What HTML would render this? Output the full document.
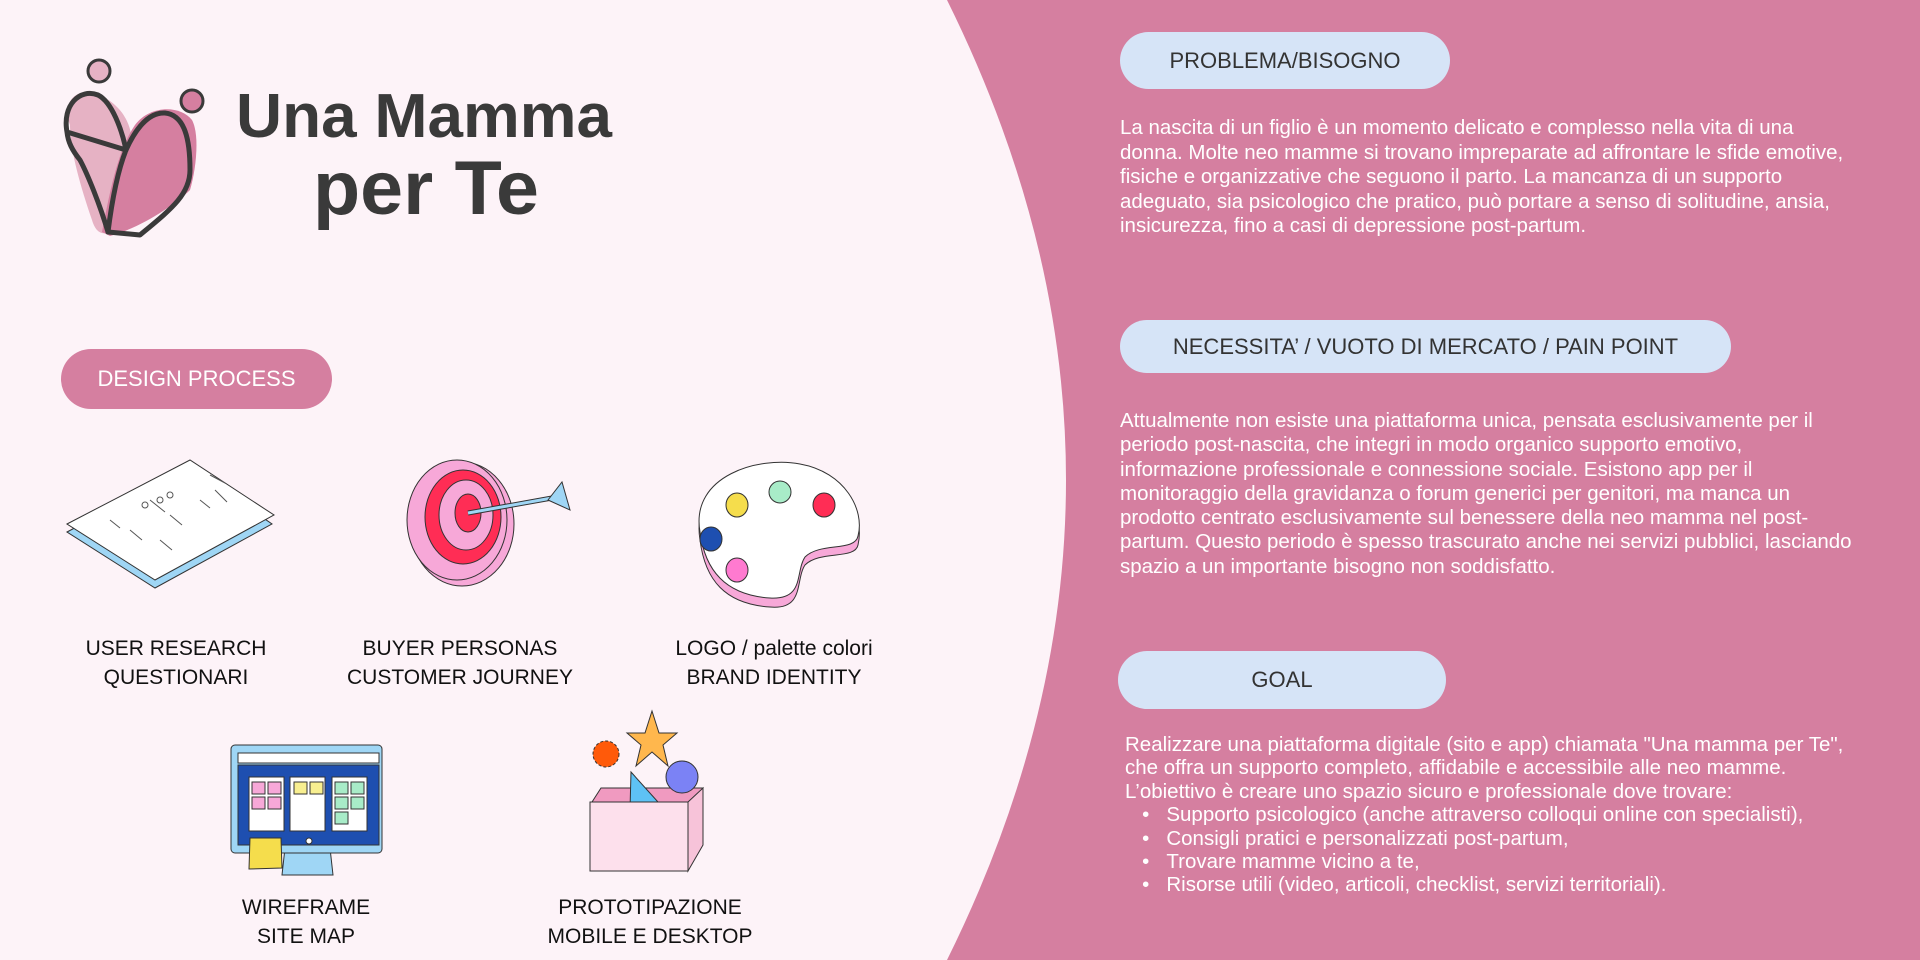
<!DOCTYPE html>
<html><head><meta charset="utf-8"><style>
html,body{margin:0;padding:0;width:1920px;height:960px;overflow:hidden;background:#fdf3f8;font-family:"Liberation Sans",sans-serif;}
svg{position:absolute;left:0;top:0}
.pill{position:absolute;background:#d6e4f7;border-radius:30px;color:#333;font-size:22px;display:flex;align-items:center;justify-content:center;}
.p{position:absolute;color:#fff;font-size:20.5px;white-space:nowrap;}
.lbl{position:absolute;color:#111;font-size:21px;text-align:center;line-height:29px;transform:translateX(-50%);white-space:nowrap}
</style></head><body>
<svg width="1920" height="960" viewBox="0 0 1920 960">
<path d="M947,0 Q1185,480 947,960 L1920,960 L1920,0 Z" fill="#d57fa0"/>
<!-- logo heart -->
<g stroke-linejoin="round" stroke-linecap="round">
<path d="M70,125 C60,100 80,85 100,95 C120,105 130,120 132,140 L110,232 C100,236 95,230 92,220 C80,185 70,150 70,125Z" fill="#e6b2c4" stroke="none"/>
<path d="M102,232 C110,190 118,150 135,125 C150,105 180,105 192,120 C200,135 196,170 190,190 C175,205 140,228 110,236Z" fill="#d57fa0"/>
<path d="M67,132 C62,105 80,88 98,95 C112,102 122,130 126,150 M126,150 C135,130 148,112 165,113 C185,115 190,140 190,170 C190,195 170,210 140,235 L108,232 C100,205 88,175 80,160 C72,150 68,142 67,132Z" fill="none" stroke="#3a3a3a" stroke-width="5"/>
<path d="M108,232 C112,200 118,170 126,150" fill="none" stroke="#3a3a3a" stroke-width="5"/>
<circle cx="99" cy="71" r="11" fill="#e6b2c4" stroke="#3a3a3a" stroke-width="3"/>
<circle cx="192" cy="101" r="11" fill="#d57fa0" stroke="#3a3a3a" stroke-width="3"/>
</g>
<text x="236" y="137" font-family="Liberation Sans" font-weight="bold" font-size="62" fill="#3a3a3a" textLength="376" lengthAdjust="spacingAndGlyphs">Una Mamma</text>
<text x="313" y="214" font-family="Liberation Sans" font-weight="bold" font-size="76" fill="#3a3a3a" textLength="226" lengthAdjust="spacingAndGlyphs">per Te</text>
<!-- book -->
<g stroke="#333" stroke-width="1">
<path d="M67,532 L190,467 L272,524 L155,588 Z" fill="#9fd6f5"/>
<path d="M67,524 L190,460 L274,515 L155,580 Z" fill="#fff"/>
<g fill="none" stroke="#555"><path d="M110,520 l10,8 M130,530 l12,10 M150,500 l15,12 M170,515 l12,10 M200,500 l10,8 M215,490 l12,12 M210,475 l15,8 M160,540 l12,10"/><circle cx="145" cy="505" r="3"/><circle cx="160" cy="500" r="3"/><circle cx="170" cy="495" r="3"/></g>
</g>
<!-- target -->
<g stroke="#333" stroke-width="1">
<ellipse cx="462" cy="524" rx="52" ry="62" fill="#f7a8d8"/>
<ellipse cx="457" cy="520" rx="50" ry="60" fill="#f7a8d8"/>
<ellipse cx="463" cy="517" rx="38" ry="47" fill="#ff2d55"/>
<ellipse cx="466" cy="515" rx="27" ry="35" fill="#f7a8d8"/>
<ellipse cx="468" cy="513" rx="13" ry="19" fill="#ff2d55"/>
<path d="M468,513 L552,498" stroke="#333" stroke-width="5"/>
<path d="M468,513 L552,498" stroke="#9fd6f5" stroke-width="3"/>
<path d="M548,500 L562,482 L570,510 Z" fill="#9fd6f5"/>
</g>
<!-- palette -->
<g stroke="#333" stroke-width="1">
<path d="M700,540 C690,480 760,462 800,470 C845,478 865,515 858,545 C855,560 820,550 805,565 C795,580 805,610 770,607 C725,604 705,580 700,540Z" fill="#f7a8d8"/>
<path d="M700,532 C690,475 760,456 800,464 C845,472 865,510 858,536 C855,552 820,542 805,557 C795,572 805,600 770,598 C725,595 705,570 700,532Z" fill="#fff"/>
<ellipse cx="737" cy="505" rx="11" ry="12" fill="#f5dd4c"/>
<ellipse cx="780" cy="492" rx="11" ry="11" fill="#a8ecc8"/>
<ellipse cx="824" cy="505" rx="11" ry="12" fill="#ff2d55"/>
<ellipse cx="711" cy="539" rx="11" ry="12" fill="#1e4fb0"/>
<ellipse cx="737" cy="570" rx="11" ry="12" fill="#ff7ad0"/>
</g>
<!-- monitor -->
<g stroke="#333" stroke-width="1">
<path d="M285,848 L330,848 L333,875 L282,875 Z" fill="#9fd6f5"/>
<rect x="231" y="745" width="151" height="108" rx="4" fill="#9fd6f5"/>
<rect x="238" y="753" width="141" height="10" fill="#fff"/>
<rect x="238" y="765" width="141" height="80" fill="#1e4fb0"/>
<rect x="249" y="777" width="35" height="54" fill="#fff"/>
<rect x="290" y="777" width="35" height="54" fill="#fff"/>
<rect x="332" y="777" width="35" height="54" fill="#fff"/>
<g fill="#f7a8d8"><rect x="252" y="782" width="13" height="12"/><rect x="268" y="782" width="13" height="12"/><rect x="252" y="797" width="13" height="12"/><rect x="268" y="797" width="13" height="12"/></g>
<g fill="#f8ef90"><rect x="294" y="782" width="13" height="12"/><rect x="310" y="782" width="13" height="12"/></g>
<g fill="#a8ecc8"><rect x="335" y="782" width="13" height="12"/><rect x="351" y="782" width="13" height="12"/><rect x="335" y="797" width="13" height="12"/><rect x="351" y="797" width="13" height="12"/><rect x="335" y="812" width="13" height="12"/></g>
<path d="M250,838 L281,838 L282,868 L249,869 Z" fill="#f5dd4c"/>
<circle cx="309" cy="841" r="3" fill="#fff"/>
</g>
<!-- prototype -->
<g stroke="#333" stroke-width="1">
<circle cx="606" cy="754" r="13" fill="#ff5a0a" stroke-dasharray="3 2"/>
<path d="M652,711 L659,733 L677,733 L663,745 L668,766 L652,752 L636,766 L641,745 L627,733 L645,733 Z" fill="#ffb74d"/>
<path d="M592,802 L601,788 L703,788 L694,802 Z" fill="#f09ac0"/>
<ellipse cx="682" cy="777" rx="16" ry="16" fill="#7b82f5"/>
<path d="M631,772 L658,802 L630,810 Z" fill="#5ec2f5"/>
<path d="M688,802 L703,788 L703,845 L688,871 Z" fill="#f7c3d9"/>
<rect x="590" y="802" width="98" height="69" fill="#fde0ec"/>
</g>
</svg>
<div class="pill" style="left:61px;top:349px;width:271px;height:60px;background:#d57fa0;color:#fff;">DESIGN PROCESS</div>
<div class="lbl" style="left:176px;top:634px">USER RESEARCH<br>QUESTIONARI</div>
<div class="lbl" style="left:460px;top:634px">BUYER PERSONAS<br>CUSTOMER JOURNEY</div>
<div class="lbl" style="left:774px;top:634px">LOGO / palette colori<br>BRAND IDENTITY</div>
<div class="lbl" style="left:306px;top:893px">WIREFRAME<br>SITE MAP</div>
<div class="lbl" style="left:650px;top:893px">PROTOTIPAZIONE<br>MOBILE E DESKTOP</div>

<div class="pill" style="left:1120px;top:32px;width:330px;height:57px;">PROBLEMA/BISOGNO</div>
<div class="p" style="left:1120px;top:116px;line-height:24.5px">La nascita di un figlio è un momento delicato e complesso nella vita di una<br>donna. Molte neo mamme si trovano impreparate ad affrontare le sfide emotive,<br>fisiche e organizzative che seguono il parto. La mancanza di un supporto<br>adeguato, sia psicologico che pratico, può portare a senso di solitudine, ansia,<br>insicurezza, fino a casi di depressione post-partum.</div>

<div class="pill" style="left:1120px;top:320px;width:611px;height:53px;">NECESSITA’ / VUOTO DI MERCATO / PAIN POINT</div>
<div class="p" style="left:1120px;top:409px;line-height:24.3px">Attualmente non esiste una piattaforma unica, pensata esclusivamente per il<br>periodo post-nascita, che integri in modo organico supporto emotivo,<br>informazione professionale e connessione sociale. Esistono app per il<br>monitoraggio della gravidanza o forum generici per genitori, ma manca un<br>prodotto centrato esclusivamente sul benessere della neo mamma nel post-<br>partum. Questo periodo è spesso trascurato anche nei servizi pubblici, lasciando<br>spazio a un importante bisogno non soddisfatto.</div>

<div class="pill" style="left:1118px;top:651px;width:328px;height:58px;">GOAL</div>
<div class="p" style="left:1125px;top:733px;line-height:23.4px">Realizzare una piattaforma digitale (sito e app) chiamata "Una mamma per Te",<br>che offra un supporto completo, affidabile e accessibile alle neo mamme.<br>L’obiettivo è creare uno spazio sicuro e professionale dove trovare:<br>&nbsp;&nbsp;&nbsp;•&nbsp;&nbsp;&nbsp;Supporto psicologico (anche attraverso colloqui online con specialisti),<br>&nbsp;&nbsp;&nbsp;•&nbsp;&nbsp;&nbsp;Consigli pratici e personalizzati post-partum,<br>&nbsp;&nbsp;&nbsp;•&nbsp;&nbsp;&nbsp;Trovare mamme vicino a te,<br>&nbsp;&nbsp;&nbsp;•&nbsp;&nbsp;&nbsp;Risorse utili (video, articoli, checklist, servizi territoriali).</div>
</body></html>
